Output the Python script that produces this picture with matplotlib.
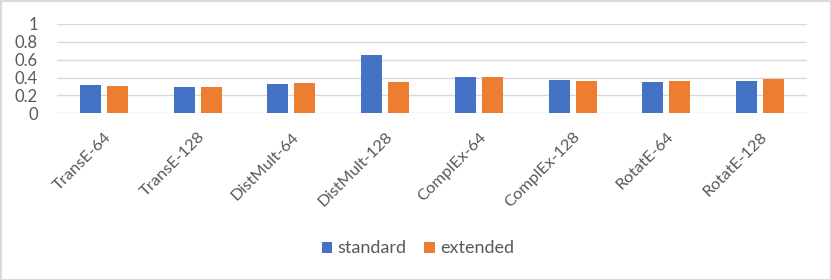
import matplotlib
matplotlib.use("Agg")
import matplotlib.pyplot as plt
import numpy as np
from matplotlib.patches import Rectangle

categories = ["TransE-64", "TransE-128", "DistMult-64", "DistMult-128",
              "ComplEx-64", "ComplEx-128", "RotatE-64", "RotatE-128"]
standard = [0.313, 0.298, 0.331, 0.653, 0.403, 0.369, 0.350, 0.362]
extended = [0.309, 0.295, 0.336, 0.347, 0.403, 0.365, 0.362, 0.388]
yticks = [0, 0.2, 0.4, 0.6, 0.8, 1]
ytick_labels = ["0", "0.2", "0.4", "0.6", "0.8", "1"]
series_names = ["standard", "extended"]

plt.rcParams['font.family'] = ['Lato', 'DejaVu Sans']
text_color = "#595959"
grid_color = "#D9D9D9"

fig = plt.figure(figsize=(8.31, 2.8), dpi=100)
renderer = fig.canvas.get_renderer()

def fit_size(s, target_px, base=10.0):
    t = fig.text(0, 0, s, fontsize=base)
    wpx = t.get_window_extent(renderer).width
    t.remove()
    return base * target_px / wpx

fs_leg = fit_size("standard", 69)
fs_x = fit_size("TransE-64", 75)
fs_y = fit_size("0.8", 23)

ax = fig.add_axes([57/831, 1-113.3/280, (807-57)/831, (113.3-24)/280])

x = np.arange(len(categories))
w = 0.224
off = 0.144
ax.bar(x - off, standard, w, color="#4472C4", label=series_names[0], zorder=3)
ax.bar(x + off, extended, w, color="#ED7D31", label=series_names[1], zorder=3)

ax.set_xlim(-0.5, len(categories) - 0.5)
ax.set_ylim(0, 1)
ax.set_yticks(yticks)
ax.set_yticklabels(ytick_labels)
for yv in yticks:
    ax.axhline(yv, color=grid_color, lw=1.0, zorder=1)
for s in ax.spines.values():
    s.set_visible(False)
ax.tick_params(axis='y', length=0, labelsize=fs_y, labelcolor=text_color, pad=13.7)
ax.tick_params(axis='x', length=0, labelsize=fs_x, labelcolor=text_color, pad=12)
ax.set_xticks(x)
ax.set_xticklabels(categories, rotation=45, ha='right', va='top', rotation_mode='anchor')

leg = fig.legend(loc='center', bbox_to_anchor=(418/831, 1-248.5/280), ncol=2,
                 frameon=False, fontsize=fs_leg, handlelength=0.58, handleheight=0.58,
                 handletextpad=0.28, columnspacing=1.0, labelcolor=text_color)

fig.patches.append(Rectangle((0.5/831, 0.5/280), 1-1/831, 1-1/280, transform=fig.transFigure,
                             fill=False, edgecolor=grid_color, lw=1.5))
fig.savefig("out.png", dpi=100)
